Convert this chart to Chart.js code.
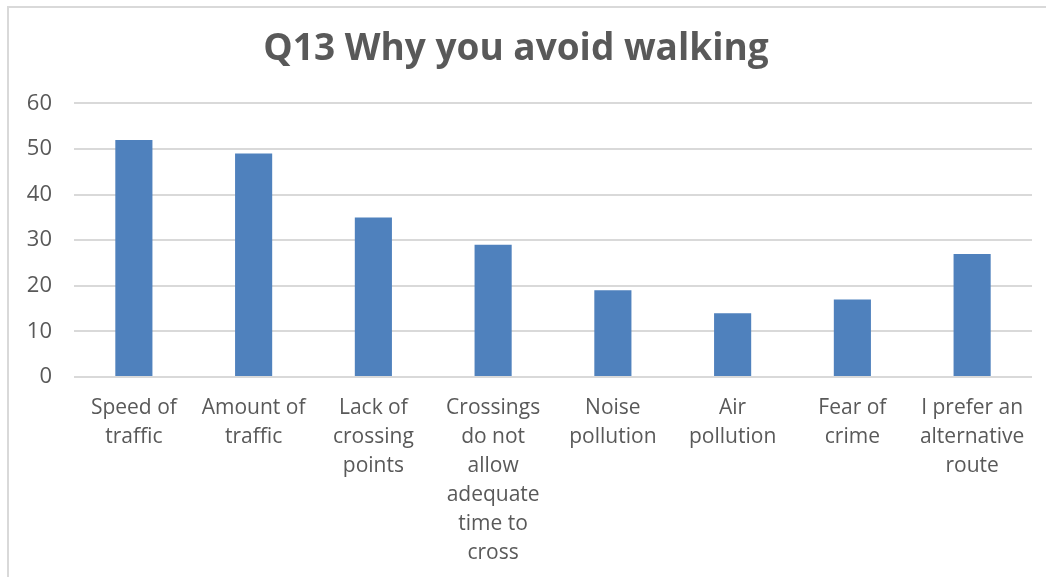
<!DOCTYPE html>
<html>
<head>
<meta charset="utf-8">
<title>Q13 Why you avoid walking</title>
<script src="https://cdn.jsdelivr.net/npm/chart.js@4/dist/chart.umd.min.js"></script>
<style>
  html, body { margin: 0; padding: 0; background: #fff; overflow: hidden; }
  #wrap { position: relative; width: 1046px; height: 577px; }
  #frame {
    position: absolute; left: 7px; top: 6px; width: 1060px; height: 600px;
    border: 2px solid #d9d9d9; box-sizing: border-box;
  }
  canvas { position: absolute; left: 0; top: 0; }
</style>
</head>
<body>
<div id="wrap">
  <div id="frame"></div>
  <canvas id="walkChart" width="1046" height="577"></canvas>
</div>
<script>
  // Reasons for avoiding walking (number of responses)
  const categories = [
    ['Speed of', 'traffic'],
    ['Amount of', 'traffic'],
    ['Lack of', 'crossing', 'points'],
    ['Crossings', 'do not', 'allow', 'adequate', 'time to', 'cross'],
    ['Noise', 'pollution'],
    ['Air', 'pollution'],
    ['Fear of', 'crime'],
    ['I prefer an', 'alternative', 'route']
  ];
  const responses = [52, 49, 35, 29, 19, 14, 17, 27];
  const yTicks = [0, 10, 20, 30, 40, 50, 60];

  const textColor = '#595959';
  const gridColor = '#d9d9d9';
  const fontFamily = "'Open Sans', 'Lato', sans-serif";

  function createChart() {
    const ctx = document.getElementById('walkChart').getContext('2d');

    new Chart(ctx, {
      type: 'bar',
      data: {
        labels: categories,
        datasets: [{
          label: 'Responses',
          data: responses,
          backgroundColor: '#4f81bd',
          borderWidth: 0,
          categoryPercentage: 1,
          barPercentage: 0.31
        }]
      },
      options: {
        responsive: false,
        animation: false,
        layout: {
          padding: { left: 0, right: 14, top: 0, bottom: 0 }
        },
        plugins: {
          legend: { display: false },
          tooltip: { enabled: false },
          title: {
            display: true,
            text: 'Q13 Why you avoid walking',
            color: textColor,
            font: { family: fontFamily, size: 37, weight: 'bold', lineHeight: 1.2 },
            padding: { top: 27, bottom: 32 }
          }
        },
        scales: {
          y: {
            min: 0,
            max: 60,
            afterBuildTicks: function(scale) {
              scale.ticks = yTicks.map(v => ({ value: v }));
            },
            afterFit: function(scale) { scale.width = 74; },
            border: { display: false },
            grid: { color: gridColor, lineWidth: 2, drawTicks: false },
            ticks: {
              color: textColor,
              padding: 22,
              font: { family: fontFamily, size: 22 }
            }
          },
          x: {
            afterFit: function(scale) { scale.height = 200; },
            border: { display: false },
            grid: { display: false },
            ticks: {
              color: textColor,
              padding: 9,
              maxRotation: 0,
              autoSkip: false,
              font: { family: fontFamily, size: 21, lineHeight: 1.38 }
            }
          }
        }
      }
    });
  }

  createChart();
</script>
</body>
</html>
